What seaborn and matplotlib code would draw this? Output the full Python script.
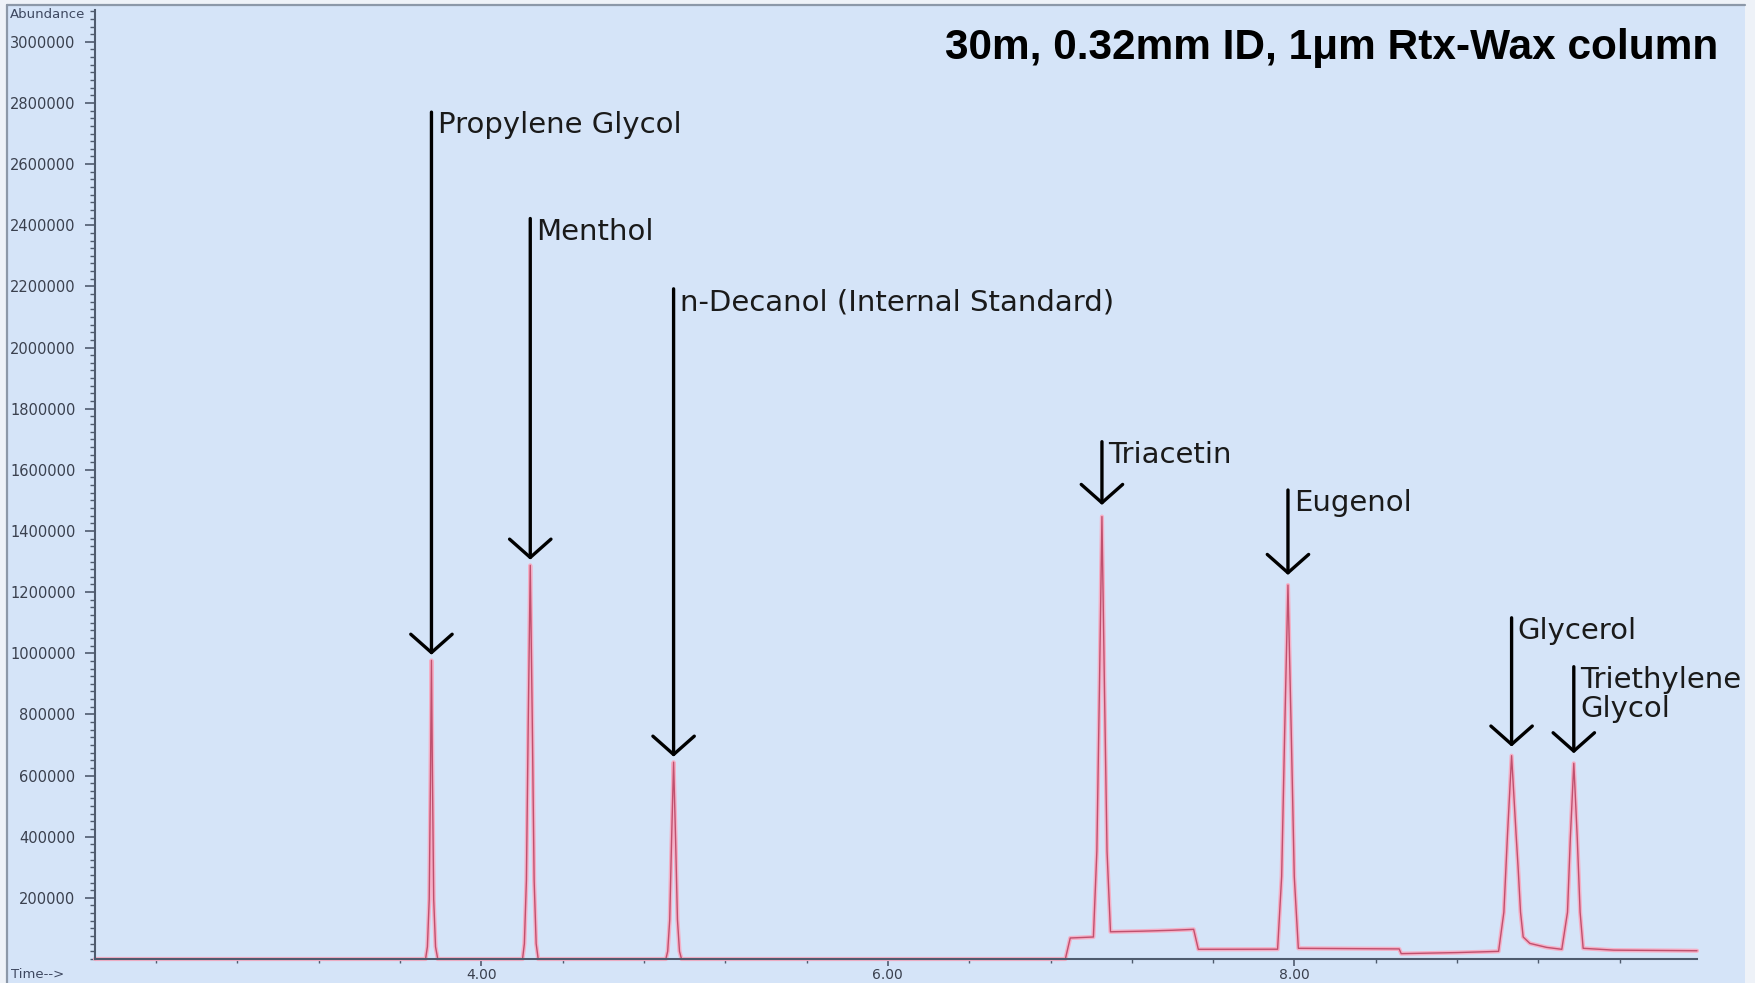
import matplotlib
matplotlib.use("Agg")
import matplotlib.pyplot as plt
import seaborn as sns
import pandas as pd
from matplotlib.ticker import MultipleLocator, FixedLocator, FuncFormatter
from matplotlib.patches import Rectangle
from matplotlib.lines import Line2D

# ---------------- data ----------------
lead_t = [2.10, 3.726]
lead_y = [0, 0]
pg_t = [3.735, 3.744, 3.750, 3.755, 3.760, 3.766, 3.775, 3.786]
pg_y = [40000, 195000, 585000, 976600, 585000, 195000, 40000, 0]
gap1_t = [4.203]
gap1_y = [0]
menthol_t = [4.212, 4.222, 4.231, 4.241, 4.251, 4.260, 4.270, 4.280]
menthol_y = [50000, 257500, 772600, 1287600, 772600, 257500, 50000, 0]
gap2_t = [4.908]
gap2_y = [0]
decanol_t = [4.917, 4.927, 4.936, 4.946, 4.956, 4.965, 4.975, 4.985]
decanol_y = [25000, 128700, 386200, 643600, 386200, 128700, 25000, 0]
shelf_t = [6.873, 6.897, 6.960, 7.011]
shelf_y = [0, 68700, 70500, 72000]
triacetin_t = [7.028, 7.041, 7.053, 7.065, 7.078, 7.095]
triacetin_y = [353000, 900000, 1447000, 900000, 353000, 89000]
plateau_t = [7.25, 7.40, 7.504, 7.527, 7.917]
plateau_y = [91000, 94000, 97000, 31700, 32000]
eugenol_t = [7.937, 7.952, 7.968, 7.984, 7.999, 8.019]
eugenol_y = [270000, 747000, 1223000, 747000, 270000, 35000]
mid_t = [8.515, 8.525, 8.80, 9.004]
mid_y = [33000, 17500, 21000, 25000]
glycerol_t = [9.030, 9.048, 9.068, 9.090, 9.100, 9.112, 9.125, 9.158, 9.240, 9.315]
glycerol_y = [153000, 409000, 665000, 409000, 300000, 153000, 72000, 51000, 38000, 31700]
teg_t = [9.343, 9.357, 9.374, 9.391, 9.405, 9.420]
teg_y = [153000, 396000, 640000, 396000, 153000, 35000]
tail_t = [9.57, 9.98]
tail_y = [29000, 27000]

compounds = ["Propylene Glycol", "Menthol", "n-Decanol (Internal Standard)",
             "Triacetin", "Eugenol", "Glycerol", "Triethylene\nGlycol"]
peak_times = [3.755, 4.241, 4.946, 7.053, 7.968, 9.068, 9.374]
arrow_top = [2770000, 2422000, 2192000, 1692000, 1534000, 1116000, 956000]
arrow_tip = [995000, 1306000, 661600, 1485000, 1256000, 694700, 672800]

x_major = [4.0, 6.0, 8.0]
y_major = [200000, 400000, 600000, 800000, 1000000, 1200000, 1400000,
           1600000, 1800000, 2000000, 2200000, 2400000, 2600000, 2800000, 3000000]

title_text = "30m, 0.32mm ID, 1\u03bcm Rtx-Wax column"

# ---------------- assemble trace ----------------
time_all = (lead_t + pg_t + gap1_t + menthol_t + gap2_t + decanol_t + shelf_t +
            triacetin_t + plateau_t + eugenol_t + mid_t + glycerol_t + teg_t + tail_t)
abund_all = (lead_y + pg_y + gap1_y + menthol_y + gap2_y + decanol_y + shelf_y +
             triacetin_y + plateau_y + eugenol_y + mid_y + glycerol_y + teg_y + tail_y)
df = pd.DataFrame({"Time": time_all, "Abundance": abund_all})

# ---------------- figure ----------------
sns.set_theme(style="white")
plt.rcParams["font.family"] = ["DejaVu Sans"]

W, H = 1755, 983
fig = plt.figure(figsize=(W / 100, H / 100), dpi=100)
bg = "#d5e4f8"
fig.patch.set_facecolor("#eef2f8")
fig.add_artist(Rectangle((7 / W, 0), (1745 - 7) / W, (H - 5) / H,
                         transform=fig.transFigure, facecolor=bg,
                         edgecolor="none", zorder=0))
fig.add_artist(Line2D([7 / W, 1745 / W], [1 - 5 / H, 1 - 5 / H],
                      transform=fig.transFigure, color="#8c98a8", lw=1.6))
fig.add_artist(Line2D([7 / W, 7 / W], [0, 1 - 5 / H],
                      transform=fig.transFigure, color="#8c98a8", lw=1.6))

ax = fig.add_axes([95 / W, 24 / H, (1697 - 95) / W, (959 - 10) / H])
ax.set_facecolor("none")

sns.lineplot(data=df, x="Time", y="Abundance", ax=ax, color="#f5afc6",
             lw=3.0, estimator=None, sort=False, clip_on=False)
sns.lineplot(data=df, x="Time", y="Abundance", ax=ax, color="#c0506e",
             lw=1.0, estimator=None, sort=False, clip_on=False)

ax.set_xlim(2.10, 9.98)
ax.set_ylim(0, 3104000)
ax.set_xlabel("")
ax.set_ylabel("")

spine_col = "#4f5b6e"
for s in ["top", "right"]:
    ax.spines[s].set_visible(False)
for s in ["left", "bottom"]:
    ax.spines[s].set_color(spine_col)
    ax.spines[s].set_linewidth(1.5)

ax.xaxis.set_major_locator(FixedLocator(x_major))
ax.xaxis.set_major_formatter(FuncFormatter(lambda v, p: f"{v:.2f}"))
ax.xaxis.set_minor_locator(MultipleLocator(0.4))
ax.yaxis.set_major_locator(FixedLocator(y_major))
ax.yaxis.set_major_formatter(FuncFormatter(lambda v, p: f"{int(round(v))}"))
ax.yaxis.set_minor_locator(MultipleLocator(25000))

ax.tick_params(axis="y", which="major", direction="out", length=7, width=1.2,
               color=spine_col, labelsize=10.5, labelcolor="#3a404e", pad=7, left=True)
ax.tick_params(axis="y", which="minor", direction="out", length=3.6, width=1.0,
               color=spine_col, left=True)
ax.tick_params(axis="x", which="major", direction="out", length=5, width=1.2,
               color=spine_col, labelsize=10, labelcolor="#3a404e", pad=1.5, bottom=True)
ax.tick_params(axis="x", which="minor", direction="out", length=3, width=1.0,
               color=spine_col, bottom=True)

# arrows and labels
for name, t, top, tip in zip(compounds, peak_times, arrow_top, arrow_tip):
    ax.annotate("", xy=(t, tip), xytext=(t, top),
                arrowprops=dict(arrowstyle="->,head_length=1.32,head_width=1.49",
                                mutation_scale=10, lw=2.4, color="black",
                                shrinkA=0, shrinkB=0))
    ax.annotate(name, xy=(t, top), xytext=(4.5, 0.5), textcoords="offset points",
                ha="left", va="top", fontsize=21, color="#1a1a1a",
                linespacing=1.05)

fig.text(1718 / W, 1 - 59 / H, title_text, ha="right", va="baseline",
         fontsize=30.5, fontweight="bold", color="black",
         family=["Liberation Sans", "DejaVu Sans"])
fig.text(10 / W, 1 - 15 / H, "Abundance", ha="left", va="center",
         fontsize=9.5, color="#3e4860")
fig.text(11 / W, 1 - 975 / H, "Time-->", ha="left", va="center",
         fontsize=9.5, color="#3e4860")

fig.savefig("out.png", dpi=100, facecolor=fig.get_facecolor())
